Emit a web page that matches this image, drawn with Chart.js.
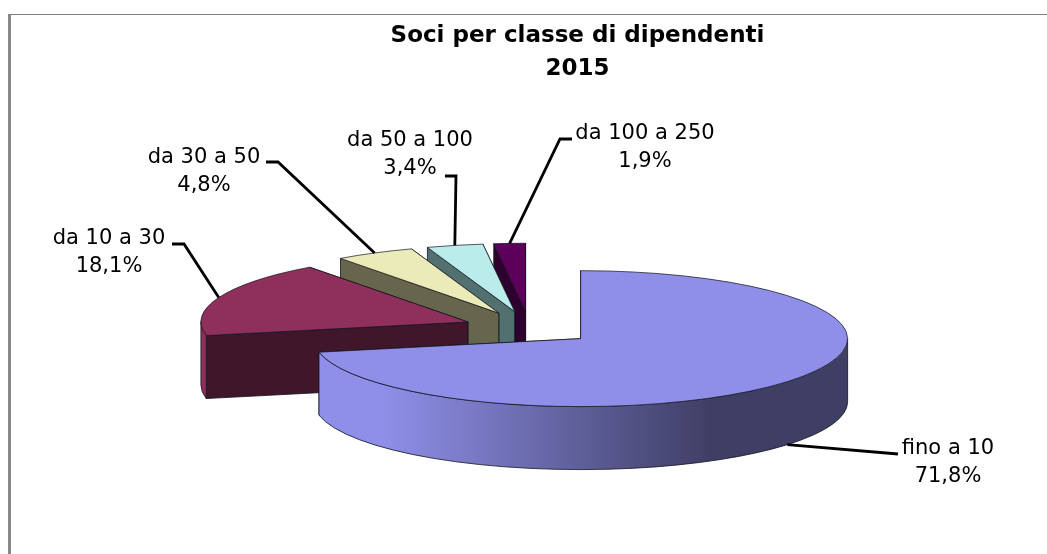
<!DOCTYPE html>
<html>
<head>
<meta charset="utf-8">
<style>
  html, body { margin: 0; padding: 0; background: #fff; }
  #frame { position: absolute; left: 8px; top: 14px; right: 0; bottom: 0; border-left: 3px solid #888; border-top: 1px solid #808080; }
  canvas { position: absolute; left: 0; top: 0; }
</style>
<script src="https://cdn.jsdelivr.net/npm/chart.js@4"></script>
</head>
<body>
<div id="frame"></div>
<canvas id="myChart" width="1047" height="554"></canvas>
<script>
const categories = ['fino a 10', 'da 10 a 30', 'da 30 a 50', 'da 50 a 100', 'da 100 a 250'];
const shares = [71.8, 18.1, 4.8, 3.4, 1.9];
const titleLines = ['Soci per classe di dipendenti', '2015'];

const topColors = ['#8f8fe9', '#8f305c', '#ebebba', '#baecec', '#5c005c'];
const wallColors = ['#3f3f66', '#40162b', '#66664d', '#527070', '#2e002e'];

// pie geometry on the page
const CX = 529.5, CY = 328;
const RADIUS = 267;
const TILT = 0.2546;   // vertical squash of the pie
const DEPTH = 63;
const EXPLODE = 66;

// text centre, baseline of first line, and leader elbow points per slice
const labelLayout = [
  { x: 948, y: 454, path: [[898, 454]], bottom: true },
  { x: 109, y: 244, path: [[184, 244], [172, 244]] },
  { x: 204, y: 163, path: [[278, 162], [266, 162]] },
  { x: 410, y: 146, path: [[456, 176], [445, 176]] },
  { x: 645, y: 139, path: [[560, 139], [572, 139]] }
];

function sliceCentre(el) {
  const mid = (el.startAngle + el.endAngle) / 2;
  return { x: CX + EXPLODE * Math.cos(mid), y: CY + EXPLODE * TILT * Math.sin(mid) };
}

function rimPoint(c, angle) {
  return { x: c.x + RADIUS * Math.cos(angle), y: c.y + RADIUS * TILT * Math.sin(angle) };
}

function drawRadialWall(ctx, c, angle, color) {
  const p = rimPoint(c, angle);
  ctx.beginPath();
  ctx.moveTo(c.x, c.y);
  ctx.lineTo(p.x, p.y);
  ctx.lineTo(p.x, p.y + DEPTH);
  ctx.lineTo(c.x, c.y + DEPTH);
  ctx.closePath();
  ctx.fillStyle = color;
  ctx.fill();
  ctx.strokeStyle = 'rgba(20,20,30,0.8)';
  ctx.lineWidth = 1;
  ctx.stroke();
}

function drawOuterWall(ctx, c, el, i) {
  // only the part of the rim facing the viewer (canvas angles 0..PI)
  const a = Math.max(el.startAngle, 0);
  const b = Math.min(el.endAngle, Math.PI);
  if (b <= a) return;
  const g = ctx.createLinearGradient(c.x - RADIUS, 0, c.x + RADIUS, 0);
  g.addColorStop(0, topColors[i]);
  g.addColorStop(0.13, topColors[i]);
  g.addColorStop(0.74, wallColors[i]);
  g.addColorStop(1, wallColors[i]);
  ctx.beginPath();
  ctx.ellipse(c.x, c.y, RADIUS, RADIUS * TILT, 0, a, b);
  ctx.ellipse(c.x, c.y + DEPTH, RADIUS, RADIUS * TILT, 0, b, a, true);
  ctx.closePath();
  ctx.fillStyle = g;
  ctx.fill();
  ctx.strokeStyle = 'rgba(20,20,30,0.8)';
  ctx.lineWidth = 1;
  ctx.stroke();
}

const pie3d = {
  id: 'pie3d',
  beforeDatasetDraw() {
    return false; // the arcs are painted in afterDatasetsDraw, squashed
  },
  afterDatasetsDraw(chart) {
    const ctx = chart.ctx;
    const arcs = chart.getDatasetMeta(0).data;
    const order = arcs.map((_, i) => arcs.length - 1 - i);

    // walls back to front
    order.forEach(i => {
      const el = arcs[i], c = sliceCentre(el);
      drawRadialWall(ctx, c, el.endAngle, wallColors[i]);
      drawRadialWall(ctx, c, el.startAngle, wallColors[i]);
      drawOuterWall(ctx, c, el, i);
    });

    // top faces are the library's own arcs
    order.forEach(i => {
      const el = arcs[i], c = sliceCentre(el);
      ctx.save();
      ctx.translate(c.x, c.y);
      ctx.scale(1, TILT);
      ctx.translate(-el.x, -el.y);
      el.draw(ctx);
      ctx.restore();

      ctx.beginPath();
      ctx.moveTo(c.x, c.y);
      ctx.ellipse(c.x, c.y, RADIUS, RADIUS * TILT, 0, el.startAngle, el.endAngle);
      ctx.closePath();
      ctx.strokeStyle = 'rgba(20,20,30,0.7)';
      ctx.lineWidth = 1;
      ctx.stroke();
    });

    // leaders and labels
    arcs.forEach((el, i) => {
      const c = sliceCentre(el);
      const p = rimPoint(c, (el.startAngle + el.endAngle) / 2);
      const l = labelLayout[i];
      ctx.beginPath();
      ctx.moveTo(p.x, p.y + (l.bottom ? DEPTH : 0));
      l.path.forEach(q => ctx.lineTo(q[0], q[1]));
      ctx.strokeStyle = '#000';
      ctx.lineWidth = 2.8;
      ctx.stroke();

      ctx.fillStyle = '#000';
      ctx.font = '21px "DejaVu Sans"';
      ctx.textAlign = 'center';
      ctx.textBaseline = 'alphabetic';
      ctx.fillText(categories[i], l.x, l.y);
      ctx.fillText(shares[i].toFixed(1).replace('.', ',') + '%', l.x, l.y + 28);
    });
  }
};

new Chart(document.getElementById('myChart').getContext('2d'), {
  type: 'pie',
  data: {
    labels: categories,
    datasets: [{
      data: shares,
      backgroundColor: topColors,
      borderWidth: 0,
      radius: RADIUS
    }]
  },
  options: {
    responsive: false,
    animation: false,
    layout: { padding: { left: 108 } },
    plugins: {
      legend: { display: false },
      tooltip: { enabled: false },
      title: {
        display: true,
        text: titleLines,
        color: '#000',
        font: { family: '"DejaVu Sans"', size: 23, weight: 'bold', lineHeight: 1.43 },
        padding: { top: 20, bottom: 0 }
      }
    }
  },
  plugins: [pie3d]
});
</script>
</body>
</html>
